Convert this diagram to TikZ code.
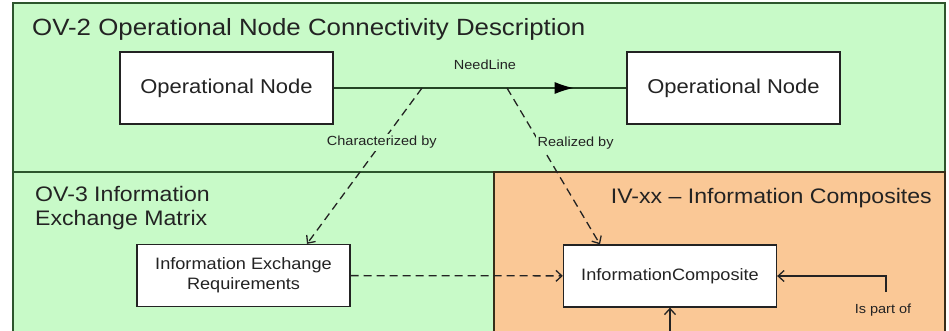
\documentclass[tikz,border=0pt]{standalone}
\usepackage{fontspec}
\setmainfont[FakeStretch=1.1]{Liberation Sans}
\usetikzlibrary{arrows.meta,calc,decorations.markings,positioning}

\definecolor{ovgreen}{RGB}{200,250,200}
\definecolor{ivorange}{RGB}{250,200,150}
\definecolor{rimgreen}{RGB}{45,85,45}
\definecolor{rimbrown}{RGB}{55,45,25}
\definecolor{inkgray}{RGB}{35,35,35}

\begin{document}
\begin{tikzpicture}[x=1pt,y=-1pt,
    every node/.style={text=inkgray,inner sep=2pt},
    panel/.style={draw=rimgreen,line width=1.6pt,fill=ovgreen},
    title/.style={font=\fontsize{21}{24}\selectfont,inner sep=0pt},
    opnode/.style={draw=inkgray,line width=1.3pt,fill=white,minimum width=213pt,minimum height=72pt,font=\fontsize{20}{24}\selectfont},
    infonode/.style={draw=inkgray,line width=1.3pt,fill=white,minimum width=213pt,minimum height=62pt,align=center,font=\fontsize{16.5}{20}\selectfont},
    lbl/.style={font=\fontsize{13.2}{15}\selectfont},
    dashedge/.style={draw=inkgray,line width=1.3pt,dash pattern=on 8pt off 5pt,-{Straight Barb[length=6pt,width=11pt]}},
    solidedge/.style={draw=inkgray,line width=1.3pt,-{Straight Barb[length=6pt,width=11pt]}}]

    \useasboundingbox (0,0) rectangle (949,330);

    \path[panel] (13,3) rectangle (945,172);
    \path[panel] (13,172) rectangle (494,340);
    \path[panel,fill=ivorange,draw=rimbrown] (494,172) rectangle (945,340);

    \node[title,anchor=base west,font=\fontsize{23.5}{26}\selectfont] (ov2) at (32,35) {OV-2 Operational Node Connectivity Description};
    \node[title,anchor=north west,align=left] (ov3) at (35,186) {OV-3 Information\\Exchange Matrix};
    \node[title,anchor=base east] (ivxx) at (932,203) {IV-xx -- Information Composites};

    \node[opnode] (op1) at (226.5,88) {Operational Node};
    \node[opnode] (op2) at (733.5,88) {Operational Node};
    \node[infonode] (ier) at (243.5,275.5) {Information Exchange\\Requirements};
    \node[infonode] (ic) at (670,276) {InformationComposite};

    \draw[draw=rimgreen!80!black,line width=1.4pt,
      postaction={decorate},
      decoration={markings,mark=at position 0.82 with {\arrow[black]{Latex[length=19pt,width=12pt]}}}]
      (op1) -- (op2);
    \node[lbl] (need) at (485,65) {NeedLine};

    \coordinate (cA) at (422,88);
    \coordinate (cB) at (507,88);
    \coordinate (cP) at (886,292);
    \coordinate (cQ) at (670,335);

    \draw[dashedge] (cA) -- node[lbl,pos=0.35,fill=ovgreen] {Characterized by} ([xshift=63.5pt]ier.north);
    \draw[dashedge] (cB) -- node[lbl,pos=0.355,anchor=west,xshift=-5pt,fill=ovgreen] {Realized by} ([xshift=-70pt]ic.north);
    \draw[dashedge] (ier) -- (ic);

    \draw[solidedge] (cP) -- (cP |- ic.east) -- (ic.east);
    \node[lbl] (part) at (883,310) {Is part of};
    \draw[solidedge] (cQ) -- (ic.south);
  \end{tikzpicture}
\end{document}
